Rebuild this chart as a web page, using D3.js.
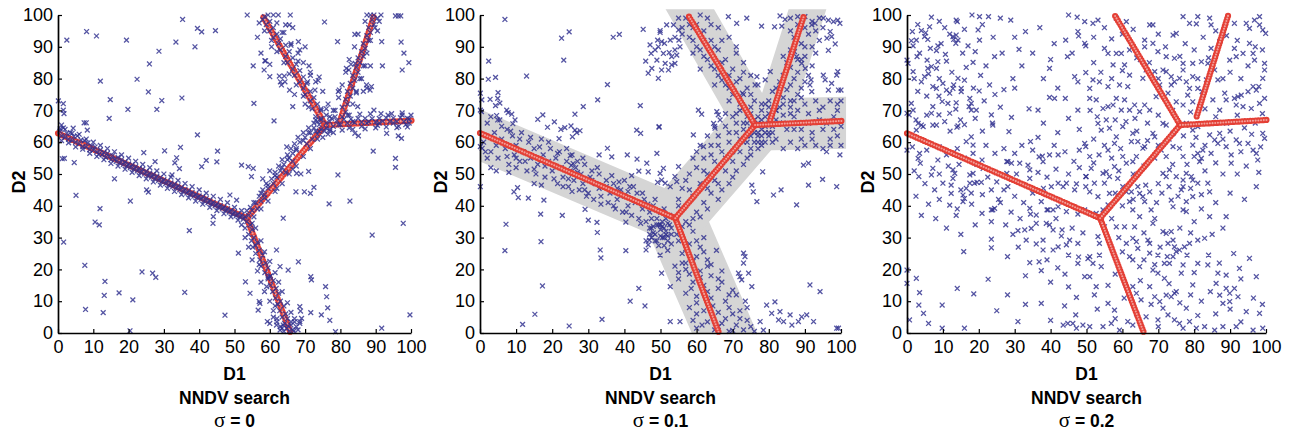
<!DOCTYPE html>
<html><head><meta charset="utf-8">
<script src="https://cdn.jsdelivr.net/npm/d3@7"></script>
<style>body{margin:0;background:#fff}svg{display:block}</style>
</head><body>
<svg id="chart" width="1291" height="437"></svg>
<script>
// ---------------- DATA ----------------
const xTicks = [0,10,20,30,40,50,60,70,80,90,100];
const yTicks = [0,10,20,30,40,50,60,70,80,90,100];
const xLabel = "D1";
const yLabel = "D2";
const methodLabel = "NNDV search";
const sigmaValues = ["0","0.1","0.2"];

// principal tree (red circles), branches as node lists [D1,D2]
const tree1 = [[[0,62.8],[53.5,36.1]],[[53.5,36.1],[65.9,0]],[[53.5,36.1],[75.7,65.4]],[[75.7,65.4],[57.8,100]],[[75.7,65.4],[100.4,66.8]],[[80,67],[89.6,100]]];
const tree2 = [[[0,62.9],[54.1,36.1]],[[54.1,36.1],[66.2,0]],[[54.1,36.1],[76.2,65.4]],[[76.2,65.4],[57.6,100]],[[76.2,65.4],[100.4,66.7]],[[80.4,67],[89.8,100]]];
const tree3 = [[[0,62.8],[53.8,36.1]],[[53.8,36.1],[66,0]],[[53.8,36.1],[76.1,65.4]],[[76.1,65.4],[57.8,100]],[[76.1,65.4],[100.2,67]],[[80.7,68.1],[89.5,100]]];

// grey noise band of panel 2 (centre lines of the band)
const band2 = [[[-8,66],[54,36]],[[54,36],[70,-6]],[[54,36],[76.5,65.5]],[[76.5,65.5],[55,108]],[[76.5,65.5],[110,66.3]],[[81,67],[93,110]]];

// samples (blue crosses)
const samples1Outliers = [
[35.3,98.6],[39.5,95.8],[40.7,94.7],[44.6,95.1],[8.1,94.8],[10.9,93.4],[2.5,92.1],[19.4,92.1],[33.4,91.5],[38.8,90],[28.6,88.6],[25.9,84.6],[12,79.2],[22.4,79.8],[25.6,75.8],[14.8,73.4],[29.4,73.1],[35.1,73.9],[19.8,70.3],[28,70.3],[14.5,67.5],[0.1,73],[1.5,72.1],[1.5,70.1],[1.7,69],[7.4,66.1],[8,66.1],[8.3,63.8],[4.3,64.4],[1,65.4],[0.6,64.2],[39.5,62.3],[34.7,58.4],[30.2,57.3],[24.3,56.7],[45.2,57.2],[45,53.8],[42,54.3],[40.7,52.3],[33.1,53.5],[34.4,51.7],[33.6,55.1],[27.5,53.9],[1.2,54.8],[1.8,54.9],[4.6,53.6],[5.1,43.3],[16,48.5],[11.9,39.1],[10.5,34.9],[11.7,34],[20.5,41.5],[25.1,45],[25.6,44.3],[32.3,49.7],[37.2,32.2],[44,36.6],[43.9,34.5],[1.6,28.6],[7.6,21.3],[13.3,16.2],[13.1,11.8],[17.3,12.6],[12.8,6.4],[21.2,10.4],[23.8,19.2],[26.8,18.8],[27.7,17.5],[35.9,12.8],[7.8,7.4],[47.3,5.6],[20.4,0.7],
[53.6,100],[62.4,100],[65.8,100],[64.5,96.9],[65.5,96.9],[75.5,97.8],[79.2,91.6],[84.1,93.9],[91.7,91.6],[97.2,91.5],[95.6,99.7],[96.4,99.7],[97.1,99.7],[98,88],[99.4,85],[97.5,82.7],[91.9,84],[55.3,84],[58.6,85.6],[58.8,85.6],[58.4,82.7],[60,80.6],[62.7,80.8],[64.1,80.8],[64.3,79],[63.3,78],[65.6,76.4],[68.1,91.6],[68.5,89],[71.1,84],[73.7,79.4],[72.8,76.4],[70.7,79],[66.5,71.2],[55.5,72.2],[61.2,66.7],[79.4,75.9],[79.7,76.4],[81.7,83.2],[82.4,82.7],[84.2,84.8],[87.4,78],[88.4,76.4],[88.8,77.5],[84.9,71.2],[89.5,70.1],[84.1,62.8],[85.1,62],[93.1,62.8],[96.4,62],[97.3,61.2],[89.3,57.2],[95.6,54.9],[95.6,52.1],[79.3,49.7],[82.7,41.5],[76.8,40.6],[67.6,50.2],[68.8,50],[71,50.8],[69.8,44.4],[71.5,43.9],[72.5,45.8],[67.4,44.4],[63.8,36.1],[52,52.8],[53.9,52.3],[55.3,51.8],[54.8,49.2],[48.7,43.4],[50.6,41.8],[51.1,25.1],[53.1,16.1],[57.2,9.3],[57,9.9],[59.1,14.6],[60,17.7],[61.9,26.1],[62.9,20.9],[68.1,22.4],[71.6,17.7],[71.8,16.7],[65.2,19.8],[75.8,14.6],[76.1,11.4],[76.4,7.9],[77,4],[71.6,6.4],[74.6,5.7],[68.5,8.3],[68.7,6.9],[69,4.6],[68.5,3.6],[78.6,0.4],[91.7,1.5],[99.7,5.7],[97.8,34.5],[89,30.8],[54.4,12.5],[56.7,7.2],[59.3,3.6],[61.9,2.5],[62.9,0.9],[63.8,2.5]
];
const samples1Branches = [
[0.5,63.5],[1,62],[1.5,64.5],[2,61.5],[2.5,62.8],[3,61],[3.5,63],[4,60.5],[4.5,61.8],[5,60],[5.5,62],[6,59.5],[6.5,60.7],[7,58.6],[7.5,60.5],[8,58.5],[8.5,59.8],[9,57.6],[9.5,58.8],[10,57.5],[10.5,58.5],[11,57],[11.5,56.2],[12,57.6],[12.5,56],[13,56.8],[13.5,55.2],[14,56.5],[14.5,55.5],[15,54.5],[15.5,55.8],[16,54.6],[16.5,54],[17,55.2],[17.5,53.5],[18,54.5],[18.5,53],[19,53.8],[19.5,52.5],[20,53.2],[20.5,52],[21,52.9],[21.5,51.5],[22,52.3],[22.5,51],[23,51.8],[23.5,50.5],[24,51.5],[24.5,50],[25,50.8],[25.5,49.5],[26,50.3],[26.5,49],[27,49.9],[27.5,48.5],[28,49.3],[28.5,48],[29,48.9],[29.5,47.6],[30,48.2],[30.5,47],[31,47.8],[31.5,46.5],[32,47.2],[32.5,46],[33,46.8],[33.5,45.6],[34,46.3],[34.5,45],[35,45.8],[35.5,44.5],[36,45.2],[36.5,44],[37,44.8],[37.5,43.5],[38,44.2],[38.5,43],[39,43.6],[39.5,42.6],[40,43.1],[40.5,42],[41,42.8],[41.5,41.5],[42,42.3],[42.5,41],[43,41.7],[43.5,40.5],[44,41.1],[44.5,40],[45,40.6],[45.5,39.5],[46,40.1],[46.5,39],[47,39.6],[47.5,38.5],[48,39.1],[48.5,38],[49,38.6],[49.5,37.4],[50,38.1],[50.5,36.9],[51,37.5],[51.5,36.4],[52,37],[52.5,35.8],[53,36.5],
[1,60.5],[2,64],[3,59.8],[4,62.8],[5,58.5],[6,62.5],[7,57.8],[8,61],[9,56.5],[10,60],[11,55.5],[12,59],[13,54.5],[14,58],[15,53.3],[16,57],[17,52.5],[18,56],[19,51.5],[20,55],[21,50.5],[22,54],[23,49.5],[24,53],[25,48.5],[26,52],[27,47.5],[28,51],[29,46.5],[30,50],[31,45.5],[32,49],[33,44.5],[34,48],[35,43.5],[36,47],[37,42.5],[38,46],[39,41.5],[40,45],[41,40.5],[42,44],[43,39.5],[44,43],[45,38.5],[46,42],[47,37.5],[48,41],[49,36.5],[50,39.5],[51,35.5],[52,38.5],
[53.5,35],[54.5,34],[53,33],[55,32.5],[54,31],[55.5,30],[54.8,29],[56.5,28.5],[55.2,27],[57,26],[56,25],[58,24.5],[57.2,23],[58.8,22],[57.5,21],[59.5,20.5],[58.6,19],[60.2,18],[59.5,17],[61,16.5],[60.2,15],[61.8,14],[60.8,13],[62.5,12.5],[61.6,11],[63,10],[62.3,9],[64,8.5],[62.8,7],[64.5,6],[63.5,5],[65,4.5],[64.2,3],[66,2.5],[64.8,1.5],[66.5,1],[65.5,0.5],[63.5,1.5],[67.5,2],[66,3.5],[62,3.5],[67,4.5],[68,1],[61,5],[60,3],
[52,34],[56,33],[53,30],[57.5,29],[54,27],[58.5,25.5],[55,23],[60,22.5],[56.5,19.5],[61.5,19],[57.5,16],[62.5,16],[58.5,13],[63.5,13],[60,10],[65,9.5],[61,7],[66,6.5],[62,4.5],[67,3.5],[63,2],[68.5,3],[64,0.5],[66.8,0.6],[65.2,2.2],[61.5,8.5],[59.5,17.5],[57,21.5],[55,34.5],[56,27.5],
[54,37],[55,38.5],[54.5,39.5],[56.5,39],[56,41],[57.5,41.5],[57,43],[58.5,43.5],[58,45],[59.5,45.5],[59,47],[61,47],[60.5,48.5],[62,49],[61.5,50.5],[63,51],[62.5,52.5],[64,53],[63.5,54.5],[65,54.5],[65,56],[66.5,56.5],[66,58],[67.5,58],[67,59.5],[68.5,60],[68,61.5],[70,61.5],[69.5,63],[71,63],[71,64.5],[72.5,64.5],[72.5,66],[74,65.5],[74.5,67],[76,66],[73.5,62.5],[66.5,51.5],[60,51],[58,48.5],[64.8,58.5],
[55.5,36.5],[53.5,38.5],[57.5,39],[55.5,41],[59.5,41.5],[57.5,44],[61.5,44.5],[59.5,46.5],[63.5,47],[61.5,49.5],[65.5,50],[63.5,52],[67.5,52.5],[65.5,55],[69.5,55.5],[67.5,57.5],[71.5,58],[69.5,60.5],[73.5,61],[71.5,63],[75.5,63.5],[73.5,66.5],[77,64],[62,45.5],[66.5,54],[70.5,59.5],[58.5,42.5],[64.5,50.5],
[74.5,67.5],[73,68],[74.5,70],[72,70.5],[73.5,72],[71.5,73],[72.5,74],[70,75],[71.5,76],[69.5,77],[70.5,78.5],[68.5,79],[69.5,80.5],[67,81],[68.5,82.5],[66.5,83],[67.5,84.5],[65,85],[66.5,86.5],[64.5,87],[65.5,88.5],[63,89],[64.5,90.5],[62.5,91],[63,92.5],[61,93],[62,94],[60,95],[61,96],[59,97],[60,98],[58,98.5],[58.5,99.5],[63.5,94.5],[66,90.5],[60.5,90],[70,72],[76,70.5],[74,63.5],[68,85.5],[71.5,81],
[77,68],[73,67],[76.5,72],[71,71],[75,76],[69.5,74.5],[73,79],[67.5,78],[71.5,82],[65.5,81.5],[69.5,85],[64,85],[68,88],[62,88.5],[66,91],[60.5,92],[64,94.5],[58.5,95],[62,97.5],[57,97.5],[61,100],[59.5,100],[74,80.5],[70,90],[66.5,96],[56.5,93],[57.5,88],[60,84.5],[63,79],[67,75],[74.5,70.5],[78,70],
[80.5,68],[81.5,69.5],[80.5,71],[82,72],[81.5,73.5],[82.8,74.5],[82,76],[83.5,77],[82.8,78.5],[84,79.5],[83.5,81],[85,82],[84.5,83.5],[85.5,85],[85,86.5],[86.5,87],[86,88.5],[87,89.5],[86.5,91],[88,92],[87.5,93.5],[88.5,94.5],[88,96],[89.5,97],[89,98.5],[90.5,99],[89.5,100],[88.5,100],[91,98],[86,80],[87,84],[84.5,75.5],[86.5,76],[87.5,77],
[82.5,68.5],[78.5,70],[83.5,72],[79.5,74],[84.5,76],[80.5,78],[85.5,80],[81.5,82],[86.5,84],[82.5,86],[87.5,88],[84,90],[88.5,92],[85,94],[89.8,96],[87,98],[91.5,100],[87.5,100],[90.5,95],[83,84.5],[88.5,84],
[76,64.5],[77,66.5],[78,65],[79,66.8],[80,65.5],[81,67.2],[82,66],[83,67.3],[84,66.2],[85,67.5],[86,66.3],[87,67.5],[88,66.5],[89,67.4],[90,66.4],[91,67.5],[92,66.6],[93,67.6],[94,66.5],[95,67.6],[96,66.5],[97,67.7],[98,66.5],[99,67.5],[99.5,66],[96.5,65],[98.5,65.5],[97.5,68.5],[93.5,68.5],[90.5,65.3],[86,65],[82.5,64.5],
[77,63.5],[78.5,68],[80.5,63.8],[82,68.5],[83.5,64],[85.5,68.8],[87,64.2],[88.5,68.9],[90,64.5],[91.5,69],[93,64.8],[94.5,69],[96,64.6],[97.5,69.2],[99,64.8],[100,68.5],[95,66],[91,66],[87.5,66],[83.5,66.5],[79.5,65.5],[99.5,67.3],
[74.5,64],[76.5,62.5],[73,63.5],[78,63],[75,61.5],[77.5,67.5],[76,68.5],[72,61]
];

const samples2Outliers = [
[6.9,98.6],[22.6,92.7],[24.7,94.7],[23.2,85.8],[36.9,93],[38.6,93.9],[45.2,95.5],[2.4,85.5],[2.3,79.8],[4.3,80.4],[12.9,80.8],[35.3,78.1],[0.1,75.4],[0.5,73.3],[2.8,73.5],[5,75.6],[4.9,73.8],[4.3,71.5],[5.5,72.3],[7.4,70.1],[7.8,69.3],[8.8,68.8],[9.7,67],[9.1,65.8],[4.6,68.4],[4.9,67],[0.1,70.1],[0.4,69.6],[18.7,64.7],[20.6,66.4],[16,67.2],[17.4,68.6],[22.4,64],[23.5,64.6],[21.9,61.1],[25.2,65.1],[25.6,61.7],[26.8,63],[26.3,63.8],[27.7,63.6],[26.3,68.8],[28.6,71.2],[32.6,73.3],[44.4,71.5],[43.4,63.8],[44.5,62.8],[49.6,64.7],[35.3,58.1],[36.5,55.4],[33,56],[40.8,56],[43.5,54.7],[46.2,53.4],[46.6,50.7],[44,50.9],[49.2,47.4],[7.2,34.2],[6.9,25.9],[16.8,37.4],[16.9,28.7],[17.7,41.8],[10.4,45.7],[10.6,42.6],[13.4,42.4],[9.4,44.4],[22.8,37],[29.1,38.9],[30,35.5],[32.4,34.8],[32.5,31.6],[33.3,26.1],[33.5,23.6],[40.4,34.9],[40.4,25.9],[46,26.1],[46.6,27.7],[46.9,29.2],[17.3,14.8],[15.2,5.9],[11.8,2.7],[24.7,2.2],[33.8,4.3],[41.6,10],[44,14],[45.7,8.5],[0.1,46],[0.1,58.6],[0.6,58.1],
[47.1,90.6],[48.5,89],[47.4,87.9],[45.9,85.5],[46.6,81.7],[47.6,83.2],[49.4,80.1],[49.9,94.5],[49.2,92.1],
[49.9,95.1],[50.3,91.6],[51.1,91.1],[49.4,90],[50.8,87.9],[52.4,88.2],[53.1,86.9],[54,89],[54.5,87.4],[55.4,90],[55.1,92.1],[52.7,92.1],[51.3,84.8],[52.2,82.7],[50.3,82.7],[53.6,96.9],[55,95.3],[51.7,96.9],[49,85.8],[53.1,84.3],[54,84.8],
[68.8,99.5],[73.9,99],[71.1,97.4],[78,96.5],[81.6,96.3],[83.6,96.5],[83.1,99.7],[84.5,98.6],[91.9,96.9],[92.8,97.4],[95.1,99],[96.5,98.4],[97.9,97.9],[99.1,98.4],[99.7,97.4],[97,94.8],[96.1,92.7],[97.4,93.2],[96.5,88.9],[98.4,90.9],[99.1,82.2],[98.8,81.1],[99.3,76.4],[100,76.4],[95.1,81.1],[95.6,79.6],[96.5,76.4],[97.4,78.5],[91.7,79.6],[91.4,78],[91.9,75.9],[89.1,84.8],[90.1,83.2],[87.1,88.5],[87.7,86.9],[80.4,82.2],[79,79.6],[76.7,80.6],[76.2,78],[72.7,75.4],[60.5,70.1],[61.4,68.8],[65.6,69.6],[66,68.6],[66.5,67],[64.7,65.9],[65.1,64.4],[49.6,64.9],[59.1,62.3],[61.9,58.6],[49,56.5],[91,53.4],[89.6,52.8],[91,46.5],[94.9,48.3],[98.8,46],[87.7,40.3],[83.4,45],[81.3,43.4],[76.7,41.3],[75.7,44.4],[75.3,46.5],[78.3,50.7],[99.7,56],[49.9,50.2],[50.3,48.1],[51.3,47.1],[52.7,46],[54,49.2],[54.5,47.6],[55,52.3],[50.8,51.8],[49.9,24.5],[50.3,18.8],[52.7,14.6],[55.4,3.6],[52.7,3.6],[73,25.1],[73.4,24],[72,17.7],[72.5,16.7],[75.3,14.6],[74.4,18.8],[71.6,18.8],[73,22],[79.4,8.8],[81.7,9.8],[80.8,6.2],[83.1,6.7],[82.7,4.1],[84.1,3.6],[85.9,5.7],[86.4,2.5],[88.2,3.6],[89.1,5.1],[90.5,5.7],[92.4,3.6],[94.2,13],[91.4,15.1],[98.8,1.5],[99.3,1.5],[78.5,0.9],[77.6,3.6]
];
const samples2Band = [
[1,60],[2,66],[3,57],[4,63],[5,55],[5.5,67],[6,61],[7,58],[7.5,64],[8,53],[9,62],[9.5,56],[10,59],[11,54],[11.5,63],[12,57],[13,51],[13.5,60],[14,55],[15,58],[15.5,50],[16,53],[17,61],[17.5,56],[18,49],[19,54],[19.5,58],[20,51],[21,55],[21.5,47],[22,57],[22.5,52],[23,49],[24,54],[24.5,46],[25,51],[25.5,56],[26,48],[26.5,52],[27,54],[27.5,45],[28,50],[28.5,47],[29,53],[30,44],[30.5,49],[31,51],[31.5,42],[32,47],[33,50],[33.5,43],[34,46],[35,48],[35.5,41],[36,44],[37,47],[37.5,39],[38,42],[39,45],[39.5,38],[40,43],[41,40],[41.5,46],[42,37],[43,41],[43.5,44],[44,36],[45,39],[45.5,42],[46,35],[47,38],[47.5,33],[48,40],[48.5,31],[49,36],[49.5,34],[50,38],[50.5,30],[51,33],[51.5,36],[52,29],[52.5,34],[53,31],[50,32.5],[48,33.5],[47,31],[49,29],[51,27.5],[46,29],[25,55.8],[25.3,52.7],[25.8,53.3],[24.5,48.5],[33,45.5],[38,45.5],[40,48],[42,49.5],[29,45],[17,46.5],[15,47],[10,55],[3,52],[4.5,51],[8,50.5],[2,55],
[1.5,57],[3,68],[4.5,59],[6,65],[7.5,55.5],[8.5,63.5],[10,52],[11,61],[12.5,54],[14,61.5],[15,51.5],[16.5,58.5],[18,52.5],[19,60],[20.5,48.5],[21.5,56.5],[23,46],[24,58],[25.5,44.5],[27,50.5],[28.5,55],[29.5,43],[31,48],[32.5,52],[33.5,40.5],[35,46],[36.5,49.5],[37,40],[38.5,47.5],[40.5,38],[41,44.5],[42.5,46],[44.5,34.5],[45,44],[46.5,40.5],[47.5,36],[48.5,42],[50.5,35],[51,39],[52.5,37],
[47,33],[48,31.5],[49,34],[50,30.5],[48.5,29],[50.5,33.5],[51.5,31],[49.5,27.5],[52,34.5],[47.5,30],
[50,34],[53,33],[56,33.5],[59,32],[51,30],[55,29],[58,28],[61,27],[52,26],[56,25],[60,24],[63,23],[54,21],[57,20],[61,19.5],[64,18],[55,17],[59,16],[62,15],[66,14],[57,12.5],[60,11.5],[64,11],[68,10],[58,8],[62,7],[66,6.5],[70,6],[59,4],[63,3.5],[67,3],[71,2.5],[60,1.5],[65,1],[69,0.5],[73,1],[75,2],[72,4.5],[69,8],[66,17],[63,21],[62,30],[57,22],[52,30.5],[60,9.5],[58,18.5],[71,12],[74,8],[70,13.5],
[51.5,32],[54.5,31],[58,34],[60,29],[53,28],[57,26.5],[62,25.5],[59,22.5],[55,19],[64,21.5],[61,17.5],[67,16],[58.5,14],[63,13],[69,12],[60,6],[64.5,8.5],[68,4.5],[72,7],[74,4],[61.5,2.5],[66,2],[70,0.8],[76,0.5],[73.5,10],[56,22],[65.5,26],[67,19.5],
[57,35],[55,42],[60,38],[58,45],[62,41],[57,48],[61,47],[64,44],[60,52],[63,50],[66,47],[62,55],[65,54],[68,51],[64,59],[67,57],[70,54],[66,62],[69,60],[72,57],[68,65],[71,63],[74,60],[70,68],[73,66],[76,63],[72,70],[75,69],[78,62],[63,39],[66,42],[59,55],[61,59],[70,49],[74,55],[77,58],[67,45],
[55,40],[59,36],[61,36.5],[56,45.5],[59,43],[63,45.5],[58,50],[62,51],[65,48],[69,47],[60,57],[64,56],[68,55],[71,51],[63,62],[66,59],[70,57],[73,53],[65,65],[69,63],[72,61],[75,56],[68,69],[71,66],[75,62],[78,59],[73,71],[77,66],[80,62],
[74,68],[78,70],[72,72],[76,73],[70,75],[74,77],[68,78],[72,80],[66,81],[70,83],[64,84],[68,86],[62,87],[66,89],[60,90],[64,92],[58,93],[62,95],[56,96],[60,97],[63,99],[57,99],[69,73],[73,82],[65,78],[61,83],[59,88],[54,93],[67,92],[71,88],[75,75],[77,68],
[75,71],[79,72],[71,69],[73,75],[77,78],[69,77],[71,79],[75,81],[67,79.5],[65,83],[69,81],[73,85],[63,86],[67,85],[71,90],[61,89],[65,90],[69,93],[59,92],[62,92],[66,96],[56,94],[59,96],[64,97],[55,99],[58,97],[61,100],
[82,70],[86,71],[80,73],[84,74],[88,75],[82,77],[86,78],[90,79],[84,81],[88,82],[85,85],[89,86],[92,84],[86,89],[90,90],[93,88],[87,93],[91,94],[94,92],[88,97],[92,98],[95,96],[86,99],[90,99.5],
[80,69],[84,68.5],[83,71],[87,73],[81,76],[85,76.5],[89,77],[83,79],[87,80],[91,81],[86,83.5],[90,87],[84,87],[88,86],[92,90],[89,91],[86,95],[93,95],[90,96],[94,99],[88,99.5],
[78,60],[80,63],[82,70],[84,58],[85,64],[87,68],[89,61],[90,72],[91,66],[93,59],[94,70],[95,64],[97,61],[98,68],[99,72],[96,57],[88,58],[83,66],[79,68],[86,73],[92,63],[99,62],[100,65],[94,67],[81,60],[97,73],
[77,63],[79,65],[81,69],[82,61],[84,66],[84,72],[86,60],[87,64],[88,70],[89,74],[90,59],[91,69],[92,61],[93,73],[95,58],[95,71],[96,66],[97,59],[98,64],[99,70],[100,59],[100,73],[86,69],[89,64],
[74,62],[76,60],[78,64],[80,66],[79,60],[77,62],[75,58],[81,63],[73,64],[78,67],[74,66],[76,67],[79,63],[81,65],[82,67],[78,72],[80,71],[75,64],[73,60],[77,60]
];

const samples3Left = [
[6.8,99.3],[18.1,100],[20.2,99.5],[22.7,99.5],[28.9,98.4],[45,100],[47.4,99.3],[1.5,94.8],[1.2,91.9],[2.6,92.1],[1.7,90.3],[4,95.1],[5.2,94.4],[4.9,93.2],[5.8,92.3],[6.3,96.3],[8.6,90.3],[8.2,88.8],[10.7,87.6],[11.9,94],[12.8,93.2],[13.7,93.7],[14.2,92.1],[13.6,91.1],[13,92.3],[13.7,98.4],[14,97.9],[17,90.3],[19.8,95.3],[20.2,92.1],[18.4,85.1],[24.4,86.9],[33,94.8],[31.2,89.2],[39.7,83.2],[44.2,92.1],[44.7,86.9],[47.6,94.8],[47.8,93.4],[49.8,90.3],[49.8,81.9],[46.7,80.6],[47.6,79],
[0,85.8],[0.3,84.8],[1.7,82.2],[4,79],[4.9,80.6],[2.8,86.9],[5.6,85.8],[6.8,83.8],[8.2,83.2],[8.6,85.3],[5.8,83.2],[7.2,77.5],[8.2,76.9],[10,78.5],[11,76.4],[8.9,74.5],[11.9,75.4],[12.8,76.9],[14.2,80.1],[15.1,76.9],[15.1,75.9],[17.5,73.8],[17.9,72.2],[17.3,71.2],[17.9,70.1],[20.1,76.1],[13.7,72.4],[13.6,70.4],[11.4,72.2],[7.2,71.2],[6.8,69.1],[7.2,65.4],[8.2,65.4],[8.9,68.6],[11.9,69.1],[14.9,67],[14.2,65.1],[13.9,64.7],[19.3,70.1],[23.5,68.6],[23.9,65.4],[29.1,67.8],
[1.2,72.2],[0.6,68.6],[1.7,70.1],[0,69.1],[3.1,65.9],[2.6,63.8],[4.5,64.9],[4,65.4],[0.7,62.3],[0,57.5],[3.5,56.5],[3.1,54.9],[3.7,53.4],[3.3,49.2],[7.2,51.8],[6.8,49.7],[7.7,45],[8.6,54.4],[10,47.1],[12.3,46.5],[12.3,43.9],[11.9,40.2],[13.7,37],[12.8,51.3],[13.3,50.2],[12.8,48.6],[15,45],[15.6,43.4],[16.5,45.5],[16,42.3],[15.6,41.3],[17.5,47.1],[17.5,49.7],[18.4,50.2],[17.9,44],[18.8,47.1],[19.5,47.4],[20.7,47.4],[17.9,61.7],[18.4,59.1],[18.4,56.5],[16.5,60.2],[20.9,54.4],[21.2,51.8],[20.9,37.6],[23.5,38.7],[23.9,38.7],[24.4,39.2],[23.5,35],[23.5,29.5],[23.5,26.8],[25.5,42],[28.1,46],[27.8,50.2],[28.1,53.9],[29.1,53.4],[27.8,53.9],[31.4,53.4],[33.7,52.8],[34.2,48.6],[34.2,51.3],[34.4,60.2],[36.8,55.4],[37.7,55.6],[37.9,53.9],[39.7,56],[42.1,56],[30.9,32.2],[32.8,32.4],[34.6,32.9],[33.2,29.2],[34.2,39.2],[34.4,37.4],[36,37.1],[38.8,34.5],[39.7,34],[40.7,32.4],[37.9,29.2],[37.9,26.1],[40.7,26.1],[42.1,27.1],[44.4,27.7],[45.3,29.2],[43.2,32.4],[39.3,38.7],[40.7,38.7],[42.1,39.7],[44.4,38.2],[47.6,37.4],[48.6,38.7],[47.6,28.2],[47.8,23.9],[50.4,23.4],[36.8,22.4],[34.2,22.1],[37.4,19.6],[15.8,25.6],[22.6,16.9],[18.6,12.3],[9.8,8.8],[2.6,17.2],[3.5,12.7],[3.3,8.8],[4.6,6.2],[0.7,4.1],[0,19.8],[0,15.6],[30.9,3.6],[9.8,1.5],[37.4,9.3],[43.9,8.5],[47.2,11.2],[47,5.7],[43.5,2.5],[44.8,3],[46.2,3],[47.2,1.5],[49,2.5],[49.5,17.7],[47.6,21.9],[49.8,58.6],[48,57.5],[49.8,49.2],[47.2,46.9],[49.8,46],[37.4,41.3],[39,38.7],[40.2,46],[42.1,47.1],[43.5,46],[44.4,47.1],[46.7,45],[41.1,73.8],[39.7,74.1],[44.1,73.8],[36.5,70.1],[47.6,70.1],[23.8,66],[28.4,63.3],
[3,97],[9,98],[10.5,96],[16,95.5],[21,97],[24,93],[26,99],[3.5,88],[6.5,89.5],[9.5,91],[11,85.5],[15.5,88],[19,88.5],[22,84],[2,80],[6,81.5],[9,80],[12.5,82],[16.5,83.5],[20.5,81],[23,78],[3,76],[5.5,74.5],[9.8,72.8],[13,78],[16,79.5],[18.5,77],[21.5,73],[24.5,75],[2.5,67],[5.5,68.5],[10.5,66.5],[12,63.5],[16,65.5],[19,67.5],[21,63.5],[26,71],[27,76.5],[29.5,80],[32,84],[35,88],[37,96],[41,91],[38,80],[42,77],[30,93],
[1.5,58.5],[5.5,57.5],[9,58.5],[11,56],[14,58],[16,55],[22,59],[24.5,56.5],[2,51],[5,47],[9,50],[11.5,52.5],[14.5,53],[19.5,53],[22.5,49],[25,47.5],[2.5,43],[6,40.5],[9,42],[14,39],[18,40.5],[21,43.5],[23.5,45],[26,41],[4,37],[8,36],[11,33],[15,31],[19,34],
[27,58],[30,56.5],[32,59],[35,57.5],[41,59],[44,57],[46.5,54],[30.5,50],[36.5,50.5],[39,49],[41.5,51.5],[45,50],[48,52],[27,45],[30,43],[32.5,41],[35,44],[38,45.5],[29,38],[31.5,36],[27.5,34],[29.5,31],[36,34.5],[41.5,36],[43,30.5],[46,33],[49,31.5],[31,27],[36,28],[39,23],[42,20.5],[45,24.5],[28,24],[33,18],[40,16],[44,18.5],
[6,3],[14,14],[25,7],[28,12],[33,9],[40,4],[45,14.5],[16,1.5],[26.5,88],[30,77],[34,70.5],[38,66],[42,63],[45,67.5],[48,64],[40,86],[46,88],[36.5,61.5]
];
const samples3Right = [
[49.5,97.9],[51.8,97.4],[53.2,98.4],[58.3,99],[61.1,97.9],[67.6,96.9],[68.5,96.9],[74.1,93.7],[75,94.2],[76.9,99.5],[78.7,97.4],[81,99.5],[80.6,97.2],[84.3,99],[84.7,96.9],[91.2,97.4],[94.5,97.4],[95.4,95.8],[98.2,99.5],[98.2,96.9],[99.1,95.3],[99.9,94.2],[96.8,98.4],
[49.5,91.1],[55,89.5],[56,87.9],[58.3,87.9],[59.7,87.9],[60.6,84.3],[62,89],[66.2,92.1],[66.2,90],[68.5,91.1],[69.9,88.5],[72.2,86.9],[74.5,86.4],[76.9,84.8],[79.6,84.8],[82,85.3],[83.8,84.8],[84.7,89.5],[87.1,91.6],[89.9,85.8],[91.7,86.9],[93.6,87.9],[96.4,87.9],[96.8,85.8],[99.6,84.8],[99.6,82.7],[95.4,91.1],[91.2,89.5],
[50.9,76.9],[51.8,79.6],[53.6,79],[52.7,73.3],[50.9,73.8],[56,77.5],[57.4,84.3],[59.2,78],[61.5,77.5],[62,81.1],[65.7,80.1],[66.6,82.7],[69,82.2],[71.3,82.7],[72.2,82.2],[73.6,80.6],[74.5,79],[75.9,80.1],[76.9,82.7],[77.8,79],[78.7,76.9],[79.6,80.6],[81,76.9],[82.2,75.9],[83.4,79.6],[85.7,82.7],[86.6,79.6],[88.5,75.4],[88.9,73.3],[91.2,73.8],[92.2,74.3],[93.1,74.8],[95,75.9],[96.4,77.5],[97.3,76.4],[99.1,80.1],[99.6,73.8],[91.7,71.7],[93.6,71.2],[95.9,70.6],[98.2,72.2],[54.6,70.6],[56,71.2],[57.4,71.7],[58.3,73.8],[59.7,70.1],[60.6,73.3],[62,70.1],[63.4,71.7],[64.8,69.6],[66.2,71.7],[67.6,70.1],[69.4,74.3],[70.4,78],[72.7,75.4],[73.6,78],[75,72.7],[76.9,71.7],[78.2,74.8],[79.6,72.7],[81.5,71.2],[85.2,73.3],[87.1,70.1],
[49.5,59.6],[50.9,55.5],[53.2,65.9],[54.1,63.8],[55.5,67],[56.4,64.4],[58.3,61.7],[60.1,64.9],[62.9,62.8],[62.5,60.2],[64.3,60.2],[66.2,58.6],[68.5,62.8],[69,61.7],[71.3,65.9],[72.2,65.4],[74.1,62.8],[76.4,65.4],[77.8,65.9],[78.7,65.4],[79.6,63.8],[81,64.9],[84.3,62.3],[87.1,62.8],[86.6,59.6],[88.9,58.6],[90.3,56],[90.3,53.4],[91.7,60.7],[92.6,59.6],[95,59.6],[96.4,57.5],[97.3,56.5],[97.7,54.4],[99.1,62.8],[99.6,61.2],[56,57.5],[57.8,59.6],[60.1,55.5],[61.1,53.4],[62.9,53.9],[63.9,55.5],[65.7,58.1],[70.8,57.5],[72.2,55.5],[74.1,58.6],[75.9,58.1],[76.9,55.5],[79.6,59.1],[81,56.5],[81.5,53.9],[82,54.9],[82.4,57.5],[84.7,56.5],[85.7,60.7],
[51.3,51.8],[49.9,49.2],[54.6,50.2],[55,47.1],[55.5,50.7],[56.4,49.2],[57.8,52.3],[58.7,48.6],[60.1,46],[61.1,44.4],[62.5,44.4],[64.3,46],[64.8,43.9],[65.7,42.9],[66.2,41.3],[67.6,44.4],[68,38.7],[71.3,50.2],[72.2,49.2],[73.1,51.3],[75,49.2],[76.9,48.1],[76.9,46],[76.4,45],[77.8,50.2],[79.2,49.2],[79.6,48.1],[81,47.1],[83.8,47.1],[84.3,44.4],[79.6,42.9],[77.8,41.3],[76.9,38.7],[77.8,38.2],[73.6,41.8],[74.1,39.7],[84.3,36.6],[88.9,36.6],[97.3,46],[52.2,47.1],[53.2,42.9],[49.5,38.7],[50.9,44.4],[52.7,37.6],[54.6,38.7],[56,40.3],[56.4,43.9],[62,41.3],[62.9,38.7],[64.8,36.6],
[55,33.4],[53.2,30.3],[53.6,28.2],[50.9,24],[53.6,24.5],[51.8,21.9],[54.1,20.9],[50.9,17.7],[58.3,33.4],[60.6,33.4],[63.4,33.4],[62.9,29.8],[63.9,28.7],[64.3,26.6],[67.1,29.2],[67.6,28.2],[68.5,34.5],[71.3,31.9],[72.2,31.3],[72.7,28.2],[73.6,31.9],[74.1,29.2],[74.5,27.1],[75,25.6],[75.9,26.1],[77.3,27.1],[78.7,28.2],[81,29.2],[82.9,29.8],[67.6,25.1],[69.9,24.5],[71.7,21.9],[74.1,24],[73.1,21.9],[76.9,21.4],[69.9,18.8],[71.7,17.2],[68.5,19.8],[76.4,18.8],[81,21.9],[83.8,21.4],[86.6,18.8],[88.9,18.2],[95.4,23.5],[92.6,20.3],[97.3,17.7],[64.8,20.9],[62.9,23],[61.1,28.2],[62,24],
[52.2,12],[52.7,14.6],[56,9.3],[57.8,7.2],[56.9,3],[59.2,0.9],[54.6,2],[50.9,2],[62.9,14.6],[63.9,12.5],[65.2,10.4],[67.6,14.6],[69,11.4],[70.4,9.9],[72.2,11.9],[73.6,11.4],[74.5,12.5],[75,13],[71.3,7.8],[72.7,5.7],[74.5,4.1],[75.9,3],[76.9,1.5],[78.7,3.6],[80.6,1.5],[82.9,2],[85.7,0.9],[88,2],[91.7,2],[96.4,0.9],[99.1,1.5],[98.2,6.2],[94.5,6.7],[92.2,11.4],[88.9,14],[89.9,12.5],[91.2,14],[89.9,9.9],[88,9.3],[87.1,11.9],[86.1,15.6],[79.6,15.1],[77.8,7.8],[69.9,4.1],[66.6,5.1],[62.9,2.5],[61.5,3.6],
[52,93],[55,96],[57,92.5],[60,94],[63,95.5],[65,86],[70,94],[72,90],[77.5,91],[80,89],[82.5,93],[86,95],[89,93.5],[92,92],[97,90],[99,89],
[52,85],[54,82],[57,80],[60,82.5],[64,86.5],[67.5,85],[70,80],[76,87],[81,80],[84,86.5],[88,80],[90,82],[93,80],[95,84],[98,77.5],
[51,70],[53,68],[58,67],[61,66.5],[63.5,67.5],[67,66],[70,68.5],[74,70],[79,69.5],[83,70.5],[86,68],[89,66],[92,68.5],[94,64.5],[97,66],[99,69],
[52,61],[55,59],[59.5,58],[64,63.5],[67,60.5],[70,59],[73,61],[77,62],[80.5,61.5],[83,59],[88,61],[90,63.5],[93,57],[96,62.5],[98.5,58.5],
[52,53.5],[53.5,56],[57,55],[59,51],[63,50],[66,52.5],[69,55],[70,47],[74,53],[78,53],[80,55.5],[83,51],[86,53.5],[88,50],[92,50],[94.5,52.5],[98,50.5],
[58,44],[60,40],[63,42],[66.5,46.5],[69.5,41],[71,44],[73,46],[75.5,43],[79,45.5],[82,43.5],[82,39],[86,41],[90,44],[94,42],
[57,36],[59,30],[66,31.5],[69,36],[70.5,27],[76,33],[79,31.5],[80,35],[85,31],[88,33],[60,25.5],[66,23],[69,21.5],[72.5,24],[78,24.5],[80,19],[84,24.5],[87,22],[91,25],
[56,15],[58,18.5],[60.5,11],[65,16.5],[68,9],[73,15.5],[76,9.5],[79,12],[82,10],[84.5,13],[86,6],[90,7.5],[93,17],[96.5,11],[99,9],[53,7.5],[58,4.5],[64,6],[70,2],[81,5.5],[93,3.5]
];

const panels = [
  {samples: samples1Outliers.concat(samples1Branches), tree: tree1, band: null, sigma: sigmaValues[0]},
  {samples: samples2Outliers.concat(samples2Band), tree: tree2, band: band2, sigma: sigmaValues[1]},
  {samples: samples3Left.concat(samples3Right), tree: tree3, band: null, sigma: sigmaValues[2]}
];

// ---------------- LAYOUT / STYLE ----------------
const plotX = [[58,411],[480,841],[907,1266]];
const plotTop = 15, plotBottom = 333;
const bandStrokeWidths = [48,60,56,42,52,36];
const FONT = "'Liberation Sans', Arial, Helvetica, sans-serif";
const blue = "#30308f", red = "#e43f35", bandGrey = "#d5d5d5";

const svg = d3.select("#chart");

panels.forEach((p, i) => {
  const [L, R] = plotX[i];
  const x = d3.scaleLinear().domain([0,100]).range([L, R]);
  const y = d3.scaleLinear().domain([0,100]).range([plotBottom, plotTop]);
  const g = svg.append("g");

  if (p.band) {
    const cid = "clip" + i;
    svg.append("defs").append("clipPath").attr("id", cid)
      .append("rect").attr("x", x(0)).attr("y", y(101.8))
      .attr("width", x(101.4) - x(0)).attr("height", y(0) - y(101.8));
    const bg = g.append("g").attr("clip-path", `url(#${cid})`);
    p.band.forEach((b, k) => {
      bg.append("path")
        .attr("d", d3.line().x(d => x(d[0])).y(d => y(d[1]))(b))
        .attr("fill", "none").attr("stroke", bandGrey)
        .attr("stroke-width", bandStrokeWidths[k])
        .attr("stroke-linecap", "round").attr("stroke-linejoin", "round");
    });
  }

  const drawTree = () => {
    const tg = g.append("g");
    p.tree.forEach(b => {
      const d = d3.line().x(v => x(v[0])).y(v => y(v[1]))(b);
      tg.append("path").attr("d", d).attr("fill", "none")
        .attr("stroke", red).attr("stroke-width", 6.2)
        .attr("stroke-linecap", "round").attr("stroke-dasharray", "0 2.7");
      tg.append("path").attr("d", d).attr("fill", "none")
        .attr("stroke", "#fff").attr("stroke-opacity", 0.5).attr("stroke-width", 2.1)
        .attr("stroke-linecap", "round").attr("stroke-dasharray", "0 2.7");
    });
  };
  const drawSamples = () => {
    const s = 2.4;
    g.append("g").selectAll("path").data(p.samples).join("path")
      .attr("d", d => {
        const cx = x(d[0]), cy = y(d[1]);
        return `M${cx-s},${cy-s}L${cx+s},${cy+s}M${cx-s},${cy+s}L${cx+s},${cy-s}`;
      })
      .attr("stroke", blue).attr("stroke-width", 1.3).attr("stroke-opacity", 0.82)
      .attr("fill", "none");
  };
  if (i === 0) { drawTree(); drawSamples(); } else { drawSamples(); drawTree(); }

  const ax = g.append("g").attr("transform", `translate(0,${plotBottom})`)
    .call(d3.axisBottom(x).tickValues(xTicks).tickSizeInner(-4).tickSizeOuter(0).tickPadding(7));
  const ay = g.append("g").attr("transform", `translate(${L},0)`)
    .call(d3.axisLeft(y).tickValues(yTicks).tickSizeInner(-4).tickSizeOuter(0).tickPadding(5));
  [ax, ay].forEach(a => {
    a.select(".domain").attr("stroke", "#000").attr("stroke-width", 1.7);
    a.selectAll(".tick line").attr("stroke", "#000").attr("stroke-width", 1.2);
    a.selectAll("text").attr("font-family", FONT).attr("font-size", 18).attr("fill", "#000");
  });

  const cx = (L + R) / 2;
  g.append("text").attr("x", cx).attr("y", 380).attr("text-anchor", "middle")
    .attr("font-family", FONT).attr("font-weight", "bold").attr("font-size", 17.5).text(xLabel);
  g.append("text").attr("x", cx).attr("y", 404).attr("text-anchor", "middle")
    .attr("font-family", FONT).attr("font-weight", "bold").attr("font-size", 17.5).text(methodLabel);
  const st = g.append("text").attr("x", cx).attr("y", 427).attr("text-anchor", "middle")
    .attr("font-family", FONT).attr("font-weight", "bold").attr("font-size", 17.5);
  st.append("tspan").attr("font-family", "'Liberation Serif', 'Times New Roman', serif")
    .attr("font-weight", "normal").attr("font-size", 21).text("σ");
  st.append("tspan").text(" = " + p.sigma);
  g.append("text").attr("transform", `translate(${L - 33},182) rotate(-90)`)
    .attr("text-anchor", "middle").attr("font-family", FONT).attr("font-weight", "bold")
    .attr("font-size", 18).text(yLabel);
});
</script>
</body></html>
